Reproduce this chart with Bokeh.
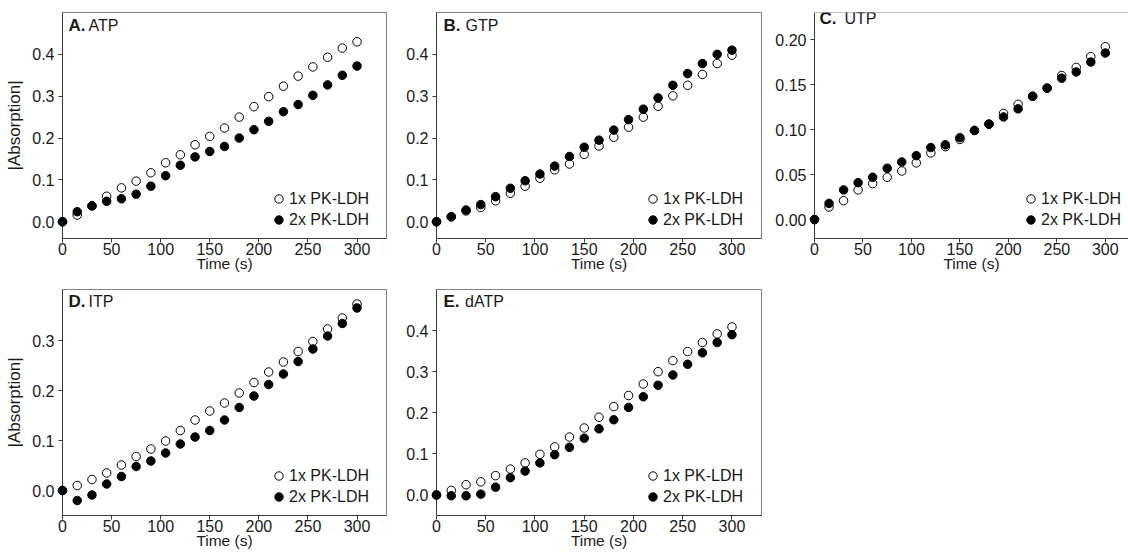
from bokeh.plotting import figure
from bokeh.models import (Label, Legend, LegendItem, FixedTicker, PrintfTickFormatter,
                          Span, Range1d)
from bokeh.layouts import column, row
from bokeh.embed import file_html
from bokeh.resources import INLINE
from bokeh.core.properties import value

# ---------------- data ----------------
time_s = [0, 15, 30, 45, 60, 75, 90, 105, 120, 135, 150, 165, 180, 195, 210, 225, 240, 255, 270, 285, 300]

atp_1x = [0.000, 0.016, 0.038, 0.061, 0.081, 0.097, 0.117, 0.141, 0.160, 0.184, 0.204,
          0.224, 0.250, 0.275, 0.299, 0.324, 0.348, 0.370, 0.393, 0.415, 0.430]
atp_2x = [0.000, 0.024, 0.038, 0.049, 0.055, 0.066, 0.085, 0.110, 0.135, 0.155, 0.168,
          0.180, 0.200, 0.220, 0.240, 0.263, 0.280, 0.302, 0.327, 0.350, 0.372]

gtp_1x = [0.000, 0.012, 0.026, 0.034, 0.050, 0.068, 0.085, 0.104, 0.124, 0.138, 0.161,
          0.181, 0.202, 0.226, 0.250, 0.276, 0.301, 0.326, 0.352, 0.378, 0.398]
gtp_2x = [0.000, 0.012, 0.028, 0.041, 0.060, 0.080, 0.098, 0.114, 0.133, 0.156, 0.178,
          0.195, 0.219, 0.244, 0.269, 0.296, 0.326, 0.354, 0.378, 0.400, 0.410]

utp_1x = [0.000, 0.014, 0.021, 0.033, 0.040, 0.047, 0.054, 0.063, 0.074, 0.081, 0.089,
          0.099, 0.106, 0.118, 0.128, 0.137, 0.146, 0.160, 0.169, 0.181, 0.192]
utp_2x = [0.000, 0.018, 0.033, 0.041, 0.047, 0.057, 0.064, 0.071, 0.080, 0.083, 0.091,
          0.099, 0.106, 0.114, 0.123, 0.137, 0.146, 0.157, 0.164, 0.175, 0.185]

itp_1x = [0.000, 0.010, 0.022, 0.035, 0.051, 0.068, 0.083, 0.099, 0.120, 0.141, 0.159,
          0.175, 0.195, 0.216, 0.237, 0.257, 0.278, 0.298, 0.323, 0.345, 0.373]
itp_2x = [0.000, -0.020, -0.009, 0.013, 0.028, 0.048, 0.059, 0.075, 0.093, 0.107, 0.120,
          0.141, 0.166, 0.189, 0.212, 0.233, 0.258, 0.283, 0.309, 0.334, 0.365]

datp_1x = [0.000, 0.011, 0.025, 0.032, 0.047, 0.063, 0.078, 0.099, 0.117, 0.141, 0.163,
           0.189, 0.215, 0.242, 0.270, 0.300, 0.327, 0.349, 0.371, 0.392, 0.409]
datp_2x = [0.000, -0.002, -0.002, 0.002, 0.019, 0.042, 0.058, 0.078, 0.098, 0.116, 0.138,
           0.161, 0.183, 0.213, 0.239, 0.267, 0.292, 0.318, 0.346, 0.371, 0.390]

x_ticks = [0, 50, 100, 150, 200, 250, 300]
y_ticks_04 = [0.0, 0.1, 0.2, 0.3, 0.4]
y_ticks_03 = [0.0, 0.1, 0.2, 0.3]
y_ticks_02 = [0.00, 0.05, 0.10, 0.15, 0.20]

series_labels = ["1x PK-LDH", "2x PK-LDH"]
x_label = "Time (s)"
y_label = "|Absorption|"

# ---------------- style ----------------
FONT = "Liberation Sans"
TXT = "#1a1a1a"
AXIS_C = "#3a3a3a"
OUTLINE_C = "#808080"


def panel(letter, name, y1, y2, width, height, borders, xmax, yrange, yticks, fmt,
          letter_dx, name_dx, title_dy, show_ylabel, show_outline=True):
    bl, br, bt, bb = borders
    p = figure(width=width, height=height, output_backend="svg", toolbar_location=None,
               x_range=Range1d(0, xmax), y_range=Range1d(*yrange),
               min_border_left=bl, min_border_right=br, min_border_top=bt,
               min_border_bottom=bb)
    p.background_fill_color = "white"
    p.border_fill_color = "white"
    p.xgrid.visible = False
    p.ygrid.visible = False
    if show_outline:
        p.outline_line_color = OUTLINE_C
        p.outline_line_width = 1
    else:
        p.outline_line_color = None
        p.add_layout(Span(location=yrange[1], dimension="width",
                          line_color=OUTLINE_C, line_width=1))

    for ax in (p.xaxis[0], p.yaxis[0]):
        ax.axis_line_color = AXIS_C
        ax.axis_line_width = 1
        ax.major_tick_line_color = AXIS_C
        ax.major_tick_out = 4
        ax.major_tick_in = 0
        ax.minor_tick_line_color = None
        ax.major_label_text_font = FONT
        ax.major_label_text_font_size = "16px"
        ax.major_label_text_color = TXT
        ax.axis_label_text_font = FONT
        ax.axis_label_text_font_style = "normal"
        ax.axis_label_text_color = TXT

    p.xaxis.ticker = FixedTicker(ticks=x_ticks)
    p.xaxis.major_label_standoff = 0
    p.xaxis.axis_label = x_label
    p.xaxis.axis_label_text_font_size = "15.5px"
    p.xaxis.axis_label_standoff = -3

    p.yaxis.ticker = FixedTicker(ticks=yticks)
    p.yaxis.formatter = PrintfTickFormatter(format=fmt)
    p.yaxis.major_label_standoff = 4
    if show_ylabel:
        p.yaxis.axis_label = y_label
        p.yaxis.axis_label_text_font_size = "17px"
        p.yaxis.axis_label_standoff = 5

    r1 = p.scatter(time_s, y1, marker="circle", size=8.5, fill_color="white",
                   line_color="black", line_width=1, level="overlay")
    r2 = p.scatter(time_s, y2, marker="circle", size=8.5, fill_color="black",
                   line_color="black", line_width=1, level="overlay")

    legend = Legend(items=[LegendItem(label=value(series_labels[0]), renderers=[r1]),
                           LegendItem(label=value(series_labels[1]), renderers=[r2])],
                    location=(206, 8), glyph_width=21, glyph_height=21, label_height=21,
                    label_standoff=-3, spacing=-2, padding=0, margin=0,
                    border_line_color=None, background_fill_alpha=0,
                    label_text_font=FONT, label_text_font_size="16px",
                    label_text_color=TXT)
    p.add_layout(legend)

    p.add_layout(Label(x=0, y=yrange[1], x_offset=letter_dx, y_offset=-title_dy,
                       text=letter, text_font=FONT, text_font_size="17px",
                       text_font_style="bold", text_color=TXT, text_baseline="middle"))
    p.add_layout(Label(x=0, y=yrange[1], x_offset=name_dx, y_offset=-title_dy,
                       text=name, text_font=FONT, text_font_size="16px",
                       text_color=TXT, text_baseline="middle"))
    return p


pA = panel("A.", "ATP", atp_1x, atp_2x, 400, 280, (62, 14, 12, 42), 330, (-0.04, 0.5),
           y_ticks_04, "%.1f", 6, 26, 13, True)
pB = panel("B.", "GTP", gtp_1x, gtp_2x, 372, 280, (36, 11, 12, 42), 330, (-0.04, 0.5),
           y_ticks_04, "%.1f", 7, 29, 13, False)
pC = panel("C.", "UTP", utp_1x, utp_2x, 356, 280, (38, 0, 12, 42), 323.9, (-0.021, 0.23),
           y_ticks_02, "%.2f", 5, 30, 6, False, show_outline=False)
pD = panel("D.", "ITP", itp_1x, itp_2x, 400, 275, (62, 14, 9, 40), 330, (-0.05, 0.402),
           y_ticks_03, "%.1f", 6, 26, 11.5, True)
pE = panel("E.", "dATP", datp_1x, datp_2x, 372, 275, (36, 11, 9, 40), 330, (-0.05, 0.5),
           y_ticks_04, "%.1f", 7, 28.5, 12, False)

layout = column(row(pA, pB, pC, spacing=0), row(pD, pE, spacing=0), spacing=0)

with open("out.html", "w") as f:
    f.write(file_html(layout, INLINE))
